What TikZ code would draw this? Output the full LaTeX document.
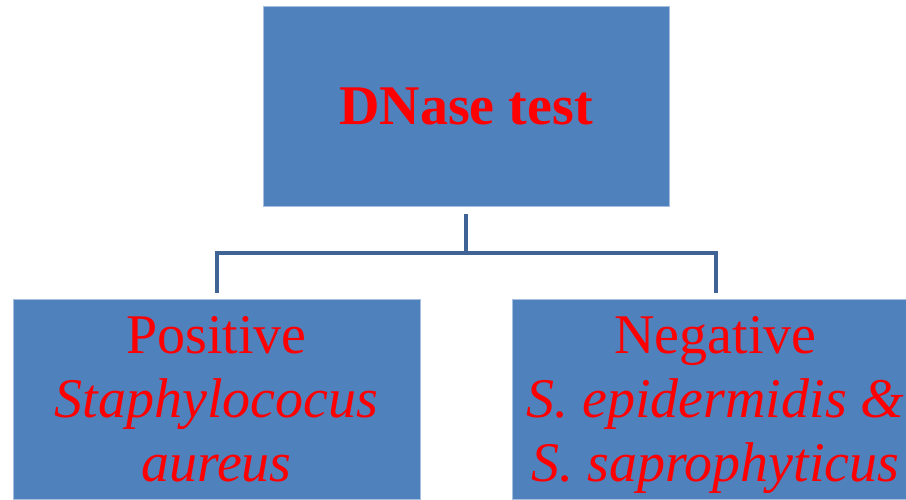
\documentclass[tikz,border=0pt]{standalone}
\usepackage{fontspec}
\setmainfont{Liberation Serif}
\definecolor{boxblue}{RGB}{79,129,189}
\definecolor{linkblue}{RGB}{63,99,148}
\definecolor{edgeblue}{RGB}{167,191,222}

\begin{document}
\begin{tikzpicture}[x=1pt,y=-1pt,
    box/.style={fill=boxblue,draw=edgeblue,line width=0.8pt,minimum width=407pt,minimum height=200pt,
      inner sep=0pt,text=red,align=center,font=\fontsize{56}{64}\selectfont},
    link/.style={draw=linkblue,line width=4pt}]
            \useasboundingbox (0,0) rectangle (906,499);
            \clip (0,0) rectangle (906,499);

            \node[box,minimum width=406pt,font=\fontsize{56}{64}\selectfont\bfseries] (test) at (466,106.5) {DNase test};
            \node[box,text depth=0pt] (pos) at (216.5,399) {Positive\\\textit{Staphylococus}\\\textit{aureus}};
            \node[box,text depth=0pt] (neg) at (715.5,399) {Negative\\\textit{S. epidermidis \&}\\\textit{S. saprophyticus}};

            \coordinate (fork) at ([yshift=-46pt]test.south);
            \draw[link] ([yshift=-7pt]test.south) -- (fork);
            \draw[link] ([yshift=6pt]pos.north) |- (fork) -| ([yshift=6pt]neg.north);
        \end{tikzpicture}
\end{document}
